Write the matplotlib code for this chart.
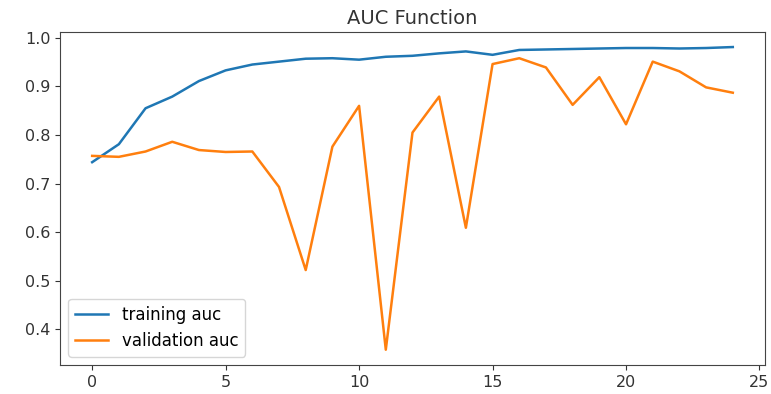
import numpy as np
import matplotlib
matplotlib.use("Agg")
from matplotlib import pyplot as plt

# per-epoch AUC from the training run
epochs = list(range(25))
train_auc = [0.744, 0.781, 0.855, 0.879, 0.911, 0.933, 0.945, 0.951, 0.957, 0.958,
             0.955, 0.961, 0.963, 0.968, 0.972, 0.965, 0.975, 0.976, 0.977, 0.978,
             0.979, 0.979, 0.978, 0.979, 0.981]
val_auc = [0.757, 0.755, 0.766, 0.786, 0.769, 0.765, 0.766, 0.693, 0.522, 0.776,
           0.860, 0.358, 0.805, 0.879, 0.609, 0.946, 0.958, 0.939, 0.862, 0.919,
           0.822, 0.951, 0.931, 0.898, 0.887]

fig = plt.figure(figsize=(7.71, 3.94), dpi=100)
ax = fig.add_axes([0.078, 0.074, 0.914, 0.845])

ax.plot(epochs, train_auc, label='training auc', lw=1.8)
ax.plot(epochs, val_auc, label='validation auc', lw=1.8)

ax.set_xticks([0, 5, 10, 15, 20, 25])
ax.set_yticks([0.4, 0.5, 0.6, 0.7, 0.8, 0.9, 1.0])
ax.tick_params(labelsize=11.5, colors='#333333', labelcolor='#333333')
for s in ax.spines.values():
    s.set_color('#444444')

ax.set_title('AUC Function', fontsize=14, color='#333333')
ax.legend(loc='lower left', fontsize=12)

fig.savefig('out.png', dpi=100)
